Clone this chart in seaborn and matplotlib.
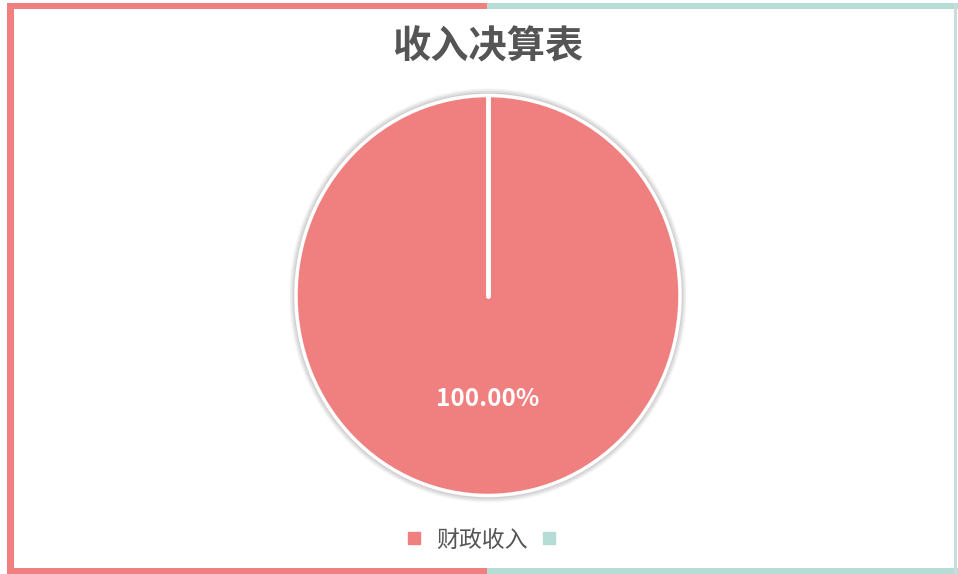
import matplotlib
matplotlib.use("Agg")
import matplotlib.pyplot as plt
import seaborn as sns
from matplotlib.patches import Rectangle, Ellipse
from matplotlib.lines import Line2D

sns.set_theme(style="white")
plt.rcParams['font.family'] = ['Noto Sans CJK SC', 'DejaVu Sans']

# data
title = "收入决算表"
categories = ["财政收入", ""]
values = [100.0, 0.0]
colors = ["#F08080", "#B5DDD6"]

W, H = 958, 574
fig = plt.figure(figsize=(W / 100, H / 100), dpi=100)
fig.patch.set_facecolor("white")

# borders
def frect(x0, y0, x1, y1, color):
    fig.patches.append(Rectangle((x0 / W, 1 - y1 / H), (x1 - x0) / W, (y1 - y0) / H,
                                 transform=fig.transFigure, color=color, lw=0, zorder=0))

frect(7, 3, 487, 9, colors[0])
frect(487, 3, 958, 9, colors[1])
frect(7, 3, 14, 574, colors[0])
frect(7, 568, 487, 574, colors[0])
frect(487, 568, 958, 574, colors[1])
frect(954, 3, 957, 574, "#C9DEDB")

cx, cy, rx, ry = 488, 295.5, 192, 200
pad = 1.04
ax = fig.add_axes([(cx - rx * pad) / W, (H - cy - ry * pad) / H, 2 * rx * pad / W, 2 * ry * pad / H])

# soft shadow
for i, a in enumerate([0.04, 0.05, 0.05, 0.06, 0.07]):
    s = 1.0 + 0.007 * (5 - i)
    ax.add_patch(Ellipse((0, 0), 2 * s, 2 * s, color="black", alpha=a, lw=0, zorder=0))

non_zero = [(c, v, col) for c, v, col in zip(categories, values, colors) if v > 0]
wedges, texts, autotexts = ax.pie(
    [v for _, v, _ in non_zero],
    colors=[col for _, _, col in non_zero],
    startangle=90, counterclock=True,
    autopct="%.2f%%", pctdistance=0.52,
    wedgeprops=dict(edgecolor="white", linewidth=2.5),
    textprops=dict(color="white", fontsize=17.5, fontweight="bold"),
    radius=1.0,
)
for w in wedges:
    w.set_zorder(2)
# start edge of the wedge (center to top)
ax.plot([0, 0], [0, 1.0], color="white", lw=3.5, solid_capstyle="round", zorder=3)
ax.set_xlim(-pad, pad)
ax.set_ylim(-pad, pad)
ax.set_aspect("auto")
ax.axis("off")

fig.text(cx / W, 1 - 47 / H, title, ha="center", va="center",
         fontsize=27.5, fontweight="bold", color="#555555")

handles = [Line2D([0], [0], marker="s", linestyle="none", markersize=9,
                  markerfacecolor=col, markeredgecolor=col) for col in colors]
fig.legend(handles, categories, loc="center", bbox_to_anchor=(487 / W, 1 - 540 / H),
           ncol=2, frameon=False, fontsize=16.5, handletextpad=0.5, columnspacing=0.4,
           labelcolor="#555555", handlelength=1.0)

fig.savefig("out.png", dpi=100)
